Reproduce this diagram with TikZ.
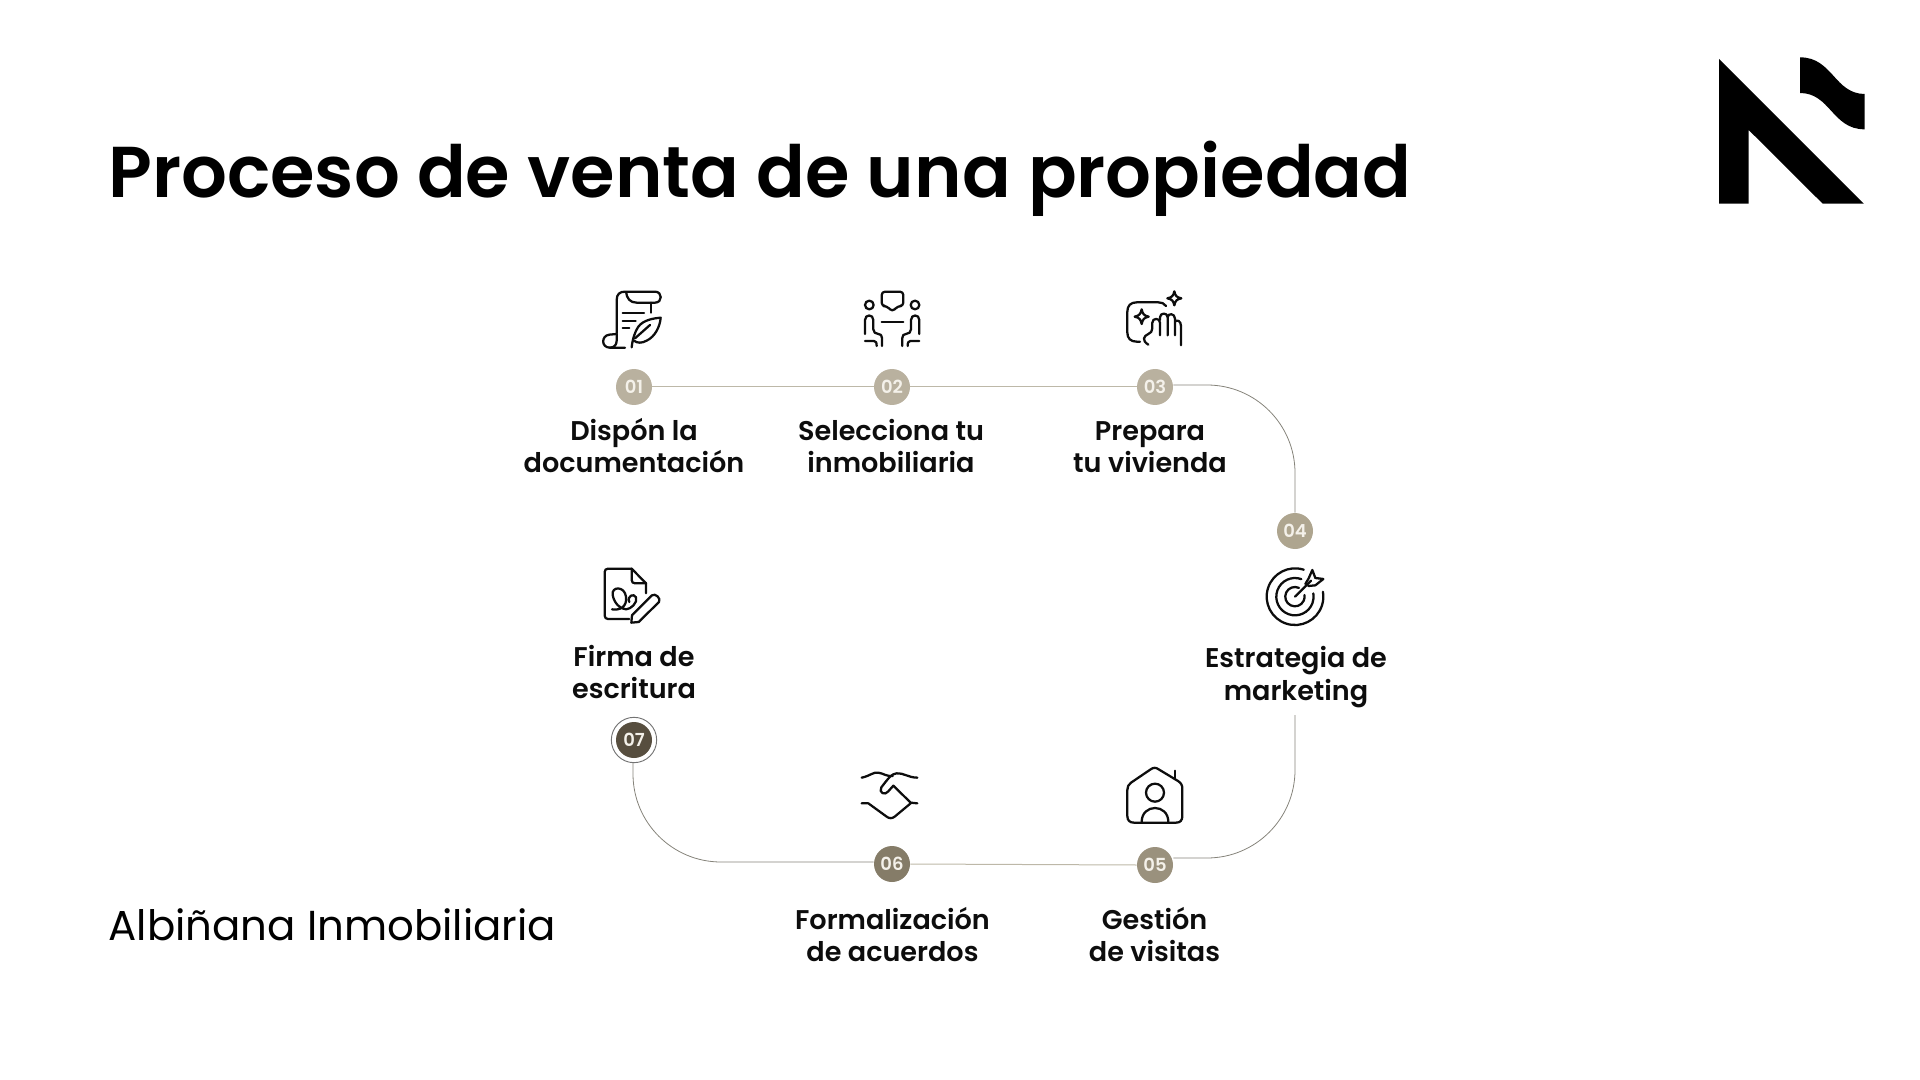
\documentclass[tikz,border=0pt]{standalone}
\usepackage{fontspec}
\setmainfont{Poppins}
\newfontfamily\psemi{Poppins SemiBold}
\definecolor{c1}{HTML}{B9B19F}
\definecolor{c4}{HTML}{AEA58F}
\definecolor{c5}{HTML}{9A917D}
\definecolor{c6}{HTML}{857C68}
\definecolor{c7}{HTML}{574E3F}
\definecolor{numtxt}{HTML}{F4F1EA}
\definecolor{lin}{HTML}{BDB8A8}
\definecolor{lin2}{HTML}{85837A}
\tikzset{
 dot/.style={circle,minimum size=27pt,inner sep=0pt,text=numtxt,font=\psemi\fontsize{13.5}{16}\selectfont},
 lbl/.style={inner sep=0pt,align=center,text=black!95,font=\psemi\fontsize{20.3}{24.2}\selectfont},
 conn/.style={draw=lin,line width=0.75pt},
 conn2/.style={draw=lin2,line width=0.6pt,rounded corners=66pt},
 ico/.style={line width=1.7pt,line cap=round,line join=round,draw=black!95},
}
\begin{document}
\begin{tikzpicture}[x=0.75pt,y=-0.75pt]
\useasboundingbox (0,0) rectangle (1920,1080);
% title
\node[anchor=base west,inner sep=0pt,font=\psemi\fontsize{54}{66}\selectfont] (title) at (108,198) {Proceso de venta de una propiedad};
\node[anchor=base west,inner sep=0pt,font=\fontsize{31.4}{40}\selectfont] (sub) at (108.5,940) {Albiñana Inmobiliaria};
% logo
\fill[black] (1719,59) -- (1863.8,203.7) -- (1822.7,203.7) -- (1748.7,130) -- (1748.7,203.7) -- (1719,203.7) -- cycle;
\begin{scope}[shift={(1700,30)},scale=1/3]
\fill[black] (300,82) .. controls (350,82) and (375,110) .. (400,137) .. controls (425,165) and (450,192) .. (494,192) -- (494,298) .. controls (444,298) and (419,270) .. (394,243) .. controls (369,215) and (344,189) .. (300,189) -- cycle;
\end{scope}
% step dots
\node[dot,fill=c1] (n1) at (634,387) {01};
\node[dot,fill=c1] (n2) at (892,387) {02};
\node[dot,fill=c1] (n3) at (1155,387) {03};
\node[dot,fill=c4] (n4) at (1295,531) {04};
\node[dot,fill=c5] (n5) at (1155,865) {05};
\node[dot,fill=c6] (n6) at (892,864) {06};
\node[dot,fill=c7] (n7) at (634,740) {07};
\node[circle,draw=black!55,fill=none,line width=0.7pt,minimum size=34pt,inner sep=0pt] (r7) at (634,740) {};
\coordinate (mk) at (1295,715);
% connectors
\draw[conn] (n1.east) -- (n2.west);
\draw[conn] (n2.east) -- (n3.west);
\draw[conn2] ([yshift=1.5pt]n3.east) -| (n4.north);
\draw[conn2] (mk) |- ([yshift=5.25pt]n5.east);
\draw[conn] (n5.west) -- (n6.east);
\draw[conn2] ([xshift=-0.75pt]r7.south) |- ([yshift=1.5pt]n6.west);
% labels
\node[lbl] (l1) at (634,450) {\strut Dispón la\\\strut documentación};
\node[lbl] (l2) at (891,450) {\strut Selecciona tu\\\strut inmobiliaria};
\node[lbl] (l3) at (1150,450) {\strut Prepara\\\strut tu vivienda};
\node[lbl] (l4) at (1296,677.5) {\strut Estrategia de\\\strut marketing};
\node[lbl] (l5) at (1154.5,939) {\strut Gestión\\\strut de visitas};
\node[lbl] (l6) at (892.5,939) {\strut Formalización\\\strut de acuerdos};
\node[lbl] (l7) at (634,676) {\strut Firma de\\\strut escritura};
% icon 1: scroll and quill
\begin{scope}[shift={(520,270)},scale=1/3]
\draw[ico] (290,190) -- (290,90) .. controls (290,72) and (300,65) .. (315,65) -- (405,65) .. controls (428,65) and (428,98) .. (405,98) -- (350,98) .. controls (330,98) and (320,85) .. (318,65);
\draw[ico] (392,98) -- (392,128);
\draw[ico] (308,128) -- (372,128);
\draw[ico] (308,152) -- (347,152);
\draw[ico] (308,175) -- (328,175);
\draw[ico] (290,192) -- (268,194) .. controls (243,197) and (243,233) .. (270,233) -- (315,233);
\draw[ico] (290,192) -- (290,212) .. controls (290,225) and (282,233) .. (270,233);
\draw[ico] (335,232) .. controls (338,205) and (345,185) .. (355,170) .. controls (370,150) and (400,145) .. (422,143) .. controls (420,170) and (405,200) .. (380,212) .. controls (365,220) and (352,220) .. (342,212);
\draw[ico] (345,205) -- (390,165);
% icon 2: meeting
\draw[ico,rounded corners=2.5pt] (1117,125) -- (1100,108) -- (1085,108) -- (1085,65) -- (1150,65) -- (1150,108) -- (1134,108) -- cycle;
\draw[ico] (1085,155) -- (1150,155);
\draw[ico] (1048,105) circle (13);
\draw[ico] (1185,105) circle (13);
\draw[ico] (1035,192) -- (1035,150) .. controls (1035,132) and (1060,132) .. (1060,150) -- (1060,178) .. controls (1060,186) and (1066,192) .. (1075,192) .. controls (1082,192) and (1086,196) .. (1086,204) -- (1086,228);
\draw[ico] (1035,213) -- (1062,213) .. controls (1068,213) and (1070,218) .. (1070,228);
\draw[ico] (1198,192) -- (1198,150) .. controls (1198,132) and (1173,132) .. (1173,150) -- (1173,178) .. controls (1173,186) and (1167,192) .. (1158,192) .. controls (1151,192) and (1147,196) .. (1147,204) -- (1147,228);
\draw[ico] (1198,213) -- (1171,213) .. controls (1165,213) and (1163,218) .. (1163,228);
\end{scope}
\begin{scope}[shift={(1000,270)},scale=1/3]
% icon 3: clean hand
\draw[ico] (498,108) .. controls (492,100) and (485,97) .. (475,97) -- (410,97) .. controls (392,97) and (382,107) .. (382,125) -- (382,188) .. controls (382,205) and (392,215) .. (410,215) -- (420,215);
\draw[ico] (425,118) .. controls (428,132) and (432,137) .. (446,140) .. controls (432,143) and (428,148) .. (425,162) .. controls (422,148) and (418,143) .. (404,140) .. controls (418,137) and (422,132) .. (425,118) -- cycle;
\draw[ico] (523,64) .. controls (526,78) and (530,82) .. (544,85) .. controls (530,88) and (526,92) .. (523,106) .. controls (520,92) and (516,88) .. (502,85) .. controls (516,82) and (520,78) .. (523,64) -- cycle;
\draw[ico] (445,224) .. controls (425,212) and (430,198) .. (445,192) .. controls (452,188) and (457,185) .. (457,175) -- (457,158) .. controls (457,143) and (480,143) .. (480,158) -- (480,196);
\draw[ico] (480,150) -- (480,142) .. controls (480,127) and (503,127) .. (503,142) -- (503,196);
\draw[ico] (503,142) .. controls (503,128) and (525,130) .. (525,146) -- (525,196);
\draw[ico] (525,155) .. controls (530,148) and (543,152) .. (543,168) -- (543,226);
% icon 4: target
\draw[ico] (911.3,899.2) arc[start angle=-72,delta angle=-298,radius=85];
\draw[ico] (904,927.4) arc[start angle=-70,delta angle=-300,radius=56];
\draw[ico] (897,953.7) arc[start angle=-65,delta angle=-305,radius=29];
\draw[ico] (885,980) -- (933,932);
\draw[ico] (916,942) -- (926,925) -- (937,900) -- (946,924) -- (970,927) -- (946,946) -- (925,948);
\end{scope}
\begin{scope}[shift={(1000,740)},scale=1/3]
% icon 5: house
\draw[ico] (452,88) -- (393,128) .. controls (385,134) and (382,140) .. (382,150) -- (382,228) .. controls (382,241) and (389,248) .. (402,248) -- (528,248) .. controls (541,248) and (547,241) .. (547,228) -- (547,146) .. controls (547,135) and (543,129) .. (534,123) -- (476,88) .. controls (468,82) and (460,82) .. (452,88) -- cycle;
\draw[ico] (525,92) -- (525,117);
\draw[ico] (465,158) circle (27);
\draw[ico] (425,246) .. controls (425,190) and (505,190) .. (505,246);
\end{scope}
\begin{scope}[shift={(520,550)},scale=1/3]
% icon 6: handshake
\draw[ico] (1025,683) .. controls (1050,678) and (1060,665) .. (1075,668) .. controls (1090,670) and (1100,680) .. (1118,678);
\draw[ico] (1192,683) .. controls (1165,683) and (1150,668) .. (1130,670) .. controls (1115,672) and (1108,682) .. (1098,694) -- (1084,712) .. controls (1075,728) and (1095,738) .. (1105,724) -- (1120,707) -- (1172,758) -- (1192,760);
\draw[ico] (1025,760) -- (1045,760) -- (1100,800) .. controls (1108,806) and (1116,806) .. (1124,800) -- (1172,760);
% icon 7: signed document
\draw[ico] (328,207) -- (264,207) .. controls (258,207) and (254,203) .. (254,197) -- (254,66) .. controls (254,60) and (258,56) .. (264,56) -- (335,56) -- (378,100) -- (378,130);
\draw[ico] (335,56) -- (335,90) .. controls (335,96) and (339,100) .. (345,100) -- (378,100);
\draw[ico] (276,178) .. controls (300,182) and (322,170) .. (318,140) .. controls (314,108) and (274,108) .. (278,135) .. controls (282,158) and (300,178) .. (318,178) .. controls (332,178) and (354,158) .. (348,142) .. controls (342,128) and (320,138) .. (328,156);
\draw[ico] (334,218) -- (336,196) -- (396,136) .. controls (406,128) and (424,146) .. (417,156) -- (356,216) -- cycle;
\end{scope}
\end{tikzpicture}
\end{document}
